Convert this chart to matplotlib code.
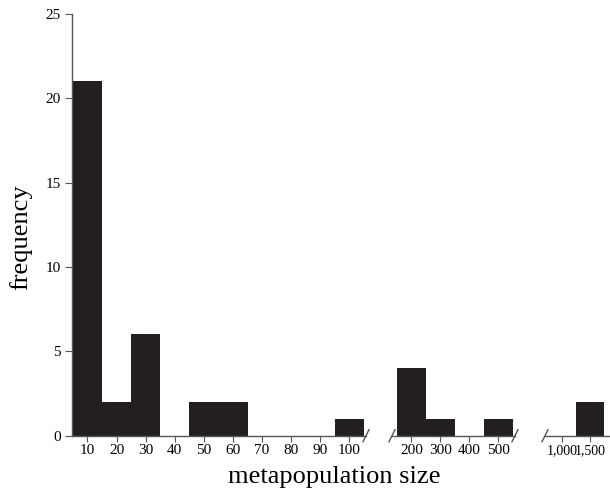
import matplotlib.pyplot as plt

# metapopulation size bins and their frequencies, split into three axis segments
small_labels = ['10', '20', '30', '40', '50', '60', '70', '80', '90', '100']
small_counts = [21, 2, 6, 0, 2, 2, 0, 0, 0, 1]
mid_labels = ['200', '300', '400', '500']
mid_counts = [4, 1, 0, 1]
large_labels = ['1,000', '1,500']
large_counts = [0, 2]

plt.rcParams['font.family'] = ['Liberation Serif', 'DejaVu Serif']

BAR = '#231f20'
AXC = '#555555'
W, H = 610, 492

fig = plt.figure(figsize=(W / 100, H / 100), dpi=100)

bottom = (H - 435.7) / H
height = (435.7 - 14) / H

# pixel spans of each segment and its x-limits in bin units
segments = [
    (small_labels, small_counts, 72, 366, (-0.03, 10.07), 11),
    (mid_labels, mid_counts, 392, 515, (-0.17, 4.07), 11),
    (large_labels, large_counts, 545, 610, (-0.1, 2.2), 10),
]

axes = []
for i, (labels, counts, x0, x1, xlim, fs) in enumerate(segments):
    ax = fig.add_axes([x0 / W, bottom, (x1 - x0) / W, height])
    pos = list(range(len(labels)))
    ax.bar([p + 0.5 for p in pos], counts, width=1.0, color=BAR,
           edgecolor=BAR, linewidth=0, zorder=2)
    ax.set_xlim(*xlim)
    ax.set_ylim(0, 25)
    ax.set_xticks([p + 0.5 for p in pos])
    ax.set_xticklabels(labels)
    ax.tick_params(axis='x', length=4, width=0.8, color=AXC, pad=2,
                   labelsize=fs)
    for s in ['top', 'right']:
        ax.spines[s].set_visible(False)
    ax.spines['bottom'].set_color(AXC)
    ax.spines['bottom'].set_linewidth(1.0)
    if i == 0:
        ax.set_yticks([0, 5, 10, 15, 20, 25])
        ax.tick_params(axis='y', length=5, width=0.8, color=AXC, pad=3,
                       labelsize=11)
        ax.spines['left'].set_color(AXC)
        ax.spines['left'].set_linewidth(1.0)
    else:
        ax.spines['left'].set_visible(False)
        ax.set_yticks([])
    ax.patch.set_alpha(0)
    axes.append(ax)

# break marks on the broken x axis
def slash(ax, xfrac):
    dx, dy = 3.0 / ax.bbox.width, 6.0 / ax.bbox.height
    ax.plot([xfrac - dx, xfrac + dx], [-dy, dy], transform=ax.transAxes,
            color=AXC, lw=1.0, clip_on=False)

slash(axes[0], 1.0)
slash(axes[1], 0.0)
slash(axes[1], 1.0)
slash(axes[2], 0.0)

fig.text(334 / W, (H - 477) / H, 'metapopulation size',
         ha='center', va='center', fontsize=19)
fig.text(21 / W, (H - 237) / H, 'frequency', rotation=90,
         ha='center', va='center', fontsize=19)

fig.savefig('out.png', dpi=100)
